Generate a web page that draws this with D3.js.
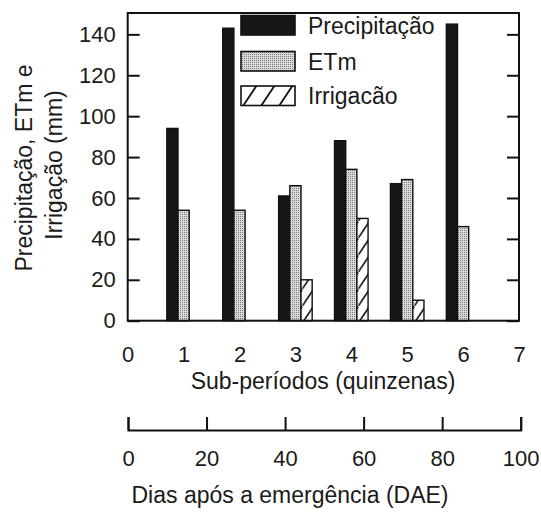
<!DOCTYPE html>
<html>
<head>
<meta charset="utf-8">
<script src="https://cdn.jsdelivr.net/npm/d3@7"></script>
<style>
  body { margin: 0; background: #fff; }
  svg { display: block; }
  text { font-family: "Liberation Sans", Arial, Helvetica, sans-serif; fill: #1a1a1a; }
</style>
</head>
<body>
<svg id="chart" width="541" height="519"></svg>
<script>
// sub-periods (quinzenas) and values in mm
var periods = [1, 2, 3, 4, 5, 6];
var precipitacao = [94, 143, 61, 88, 67, 145];
var etm = [54, 54, 66, 74, 69, 46];
var irrigacao = [0, 0, 20, 50, 10, 0];
var seriesNames = ['Precipitação', 'ETm', 'Irrigacão'];
var yTicks = [0, 20, 40, 60, 80, 100, 120, 140];
var xTicks = [0, 1, 2, 3, 4, 5, 6, 7];
var daeTicks = [0, 20, 40, 60, 80, 100];

var svg = d3.select('#chart'),
    plotLeft = 127.7, plotRight = 519, plotTop = 13.9, plotBottom = 320.7,
    x = d3.scaleLinear().domain([0, 7]).range([plotLeft, plotRight]),
    y = d3.scaleLinear().domain([0, 150]).range([plotBottom, plotTop]),
    dae = d3.scaleLinear().domain([0, 100]).range([128, 520.7]),
    barW = 0.2;

// fill patterns
var defs = svg.append('defs');
var dots = defs.append('pattern').attr('id', 'dots')
    .attr('patternUnits', 'userSpaceOnUse').attr('width', 2).attr('height', 2);
dots.append('rect').attr('width', 2).attr('height', 2).attr('fill', '#dadada');
dots.append('rect').attr('width', 1).attr('height', 1).attr('fill', '#7a7a7a');

var hatch = defs.append('pattern').attr('id', 'hatch')
    .attr('patternUnits', 'userSpaceOnUse').attr('width', 11.2).attr('height', 17);
hatch.append('rect').attr('width', 11.2).attr('height', 17).attr('fill', '#fff');
hatch.append('path').attr('d', 'M-1,18.5 L12.2,-1.5').attr('stroke', '#111').attr('stroke-width', 1.6);

var hatchL = defs.append('pattern').attr('id', 'hatchL')
    .attr('patternUnits', 'userSpaceOnUse').attr('width', 18).attr('height', 19)
    .attr('x', 241).attr('y', 86);
hatchL.append('rect').attr('width', 18).attr('height', 19).attr('fill', '#fff');
hatchL.append('path').attr('d', 'M2,20 L16,-1').attr('stroke', '#111').attr('stroke-width', 1.8);

var fills = ['#161616', 'url(#dots)', 'url(#hatch)'];
var series = [precipitacao, etm, irrigacao];

// bars
series.forEach(function(vals, k) {
  var data = periods.map(function(p, i) { return { p: p, v: vals[i] }; })
                    .filter(function(d) { return d.v > 0; });
  svg.append('g').selectAll('rect')
      .data(data)
    .enter().append('rect')
      .attr('x', function(d) { return x(d.p - 0.3 + barW * k); })
      .attr('width', function(d) { return x(d.p - 0.1 + barW * k) - x(d.p - 0.3 + barW * k); })
      .attr('y', function(d) { return y(d.v); })
      .attr('height', function(d) { return y(0) - y(d.v); })
      .attr('fill', fills[k])
      .attr('stroke', '#111')
      .attr('stroke-width', 1.4);
});

// frame
svg.append('rect')
    .attr('x', plotLeft).attr('y', 13).attr('width', plotRight - plotLeft).attr('height', plotBottom - 13)
    .attr('fill', 'none').attr('stroke', '#111').attr('stroke-width', 2);

// axes
var axisLeft = d3.axisLeft(y).tickValues(yTicks).tickSizeInner(-12).tickSizeOuter(0).tickPadding(12);
var gl = svg.append('g').attr('transform', 'translate(' + plotLeft + ',0)').call(axisLeft);

var axisRight = d3.axisRight(y).tickValues(yTicks).tickSizeInner(-12).tickSizeOuter(0).tickFormat('');
var gr = svg.append('g').attr('transform', 'translate(' + plotRight + ',0)').call(axisRight);

var axisBottom = d3.axisBottom(x).tickValues(xTicks).tickSize(0).tickPadding(26).tickFormat(d3.format('d'));
var gb = svg.append('g').attr('transform', 'translate(0,' + plotBottom + ')').call(axisBottom);

[gl, gr, gb].forEach(function(g) {
  g.select('.domain').remove();
  g.selectAll('line').attr('stroke', '#111').attr('stroke-width', 2);
  g.selectAll('text').attr('font-size', 22).attr('fill', '#1a1a1a')
    .style('font-family', '"Liberation Sans", Arial, sans-serif');
});

// DAE axis
var axisDae = d3.axisBottom(dae).tickValues(daeTicks).tickSizeInner(-13).tickSizeOuter(-13).tickPadding(20);
var gd = svg.append('g').attr('transform', 'translate(0,430)').call(axisDae);
gd.select('.domain').attr('stroke', '#111').attr('stroke-width', 2);
gd.selectAll('line').attr('stroke', '#111').attr('stroke-width', 2);
gd.selectAll('text').attr('font-size', 22).attr('fill', '#1a1a1a')
  .style('font-family', '"Liberation Sans", Arial, sans-serif');

// axis titles
svg.append('text').attr('x', 323).attr('y', 389).attr('text-anchor', 'middle')
    .attr('font-size', 23).text('Sub-períodos (quinzenas)');
svg.append('text').attr('x', 290).attr('y', 503).attr('text-anchor', 'middle')
    .attr('font-size', 23).text('Dias após a emergência (DAE)');

svg.append('text').attr('transform', 'translate(32,168) rotate(-90)').attr('text-anchor', 'middle')
    .attr('font-size', 23).text('Precipitação, ETm e');
svg.append('text').attr('transform', 'translate(62,165) rotate(-90)').attr('text-anchor', 'middle')
    .attr('font-size', 23).text('Irrigação (mm)');

// legend
var legendFills = ['#161616', 'url(#dots)', 'url(#hatchL)'];
var legendY = [15.5, 51.5, 86];
var legend = svg.append('g').selectAll('g')
    .data(seriesNames)
  .enter().append('g');
legend.append('rect')
    .attr('x', 241).attr('y', function(d, i) { return legendY[i]; })
    .attr('width', 54).attr('height', 19.5)
    .attr('fill', function(d, i) { return legendFills[i]; })
    .attr('stroke', '#111').attr('stroke-width', 1.6);
legend.append('text')
    .attr('x', 308).attr('y', function(d, i) { return legendY[i] + 18; })
    .attr('font-size', 23).text(function(d) { return d; });
</script>
</body>
</html>
